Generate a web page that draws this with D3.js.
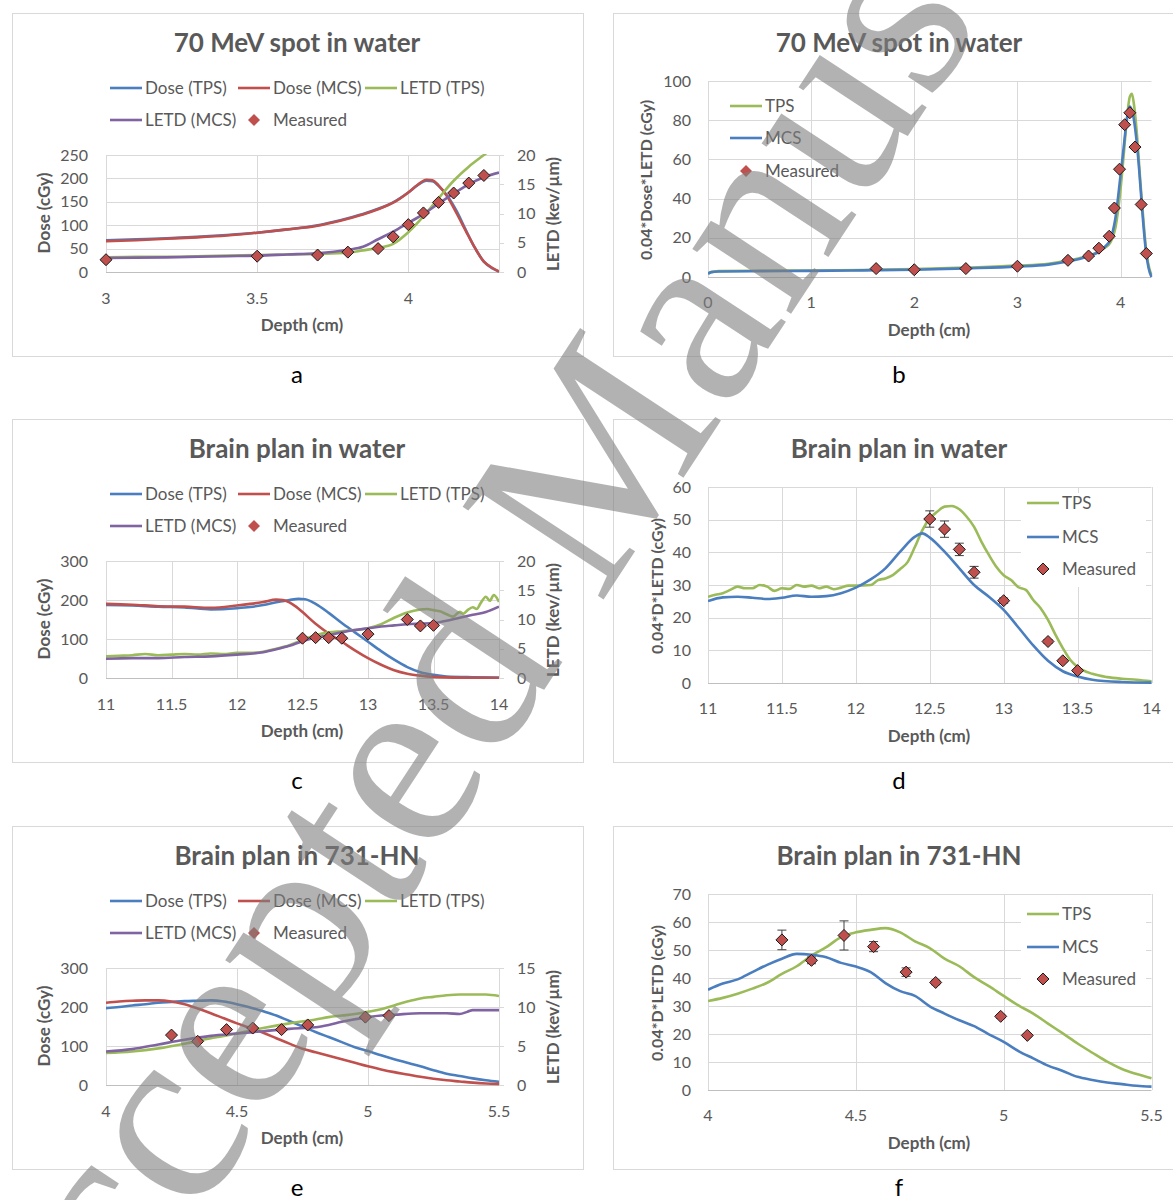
<!DOCTYPE html>
<html>
<head>
<meta charset="utf-8">
<script src="https://cdn.jsdelivr.net/npm/d3@7"></script>
<style>
  body { margin: 0; background: #fff; }
</style>
</head>
<body>
<script>
// ---- data ----
// panel a : 70 MeV spot in water (dose left axis, LETD right axis)
const aDoseTps = [[3,68],[3.1,70],[3.2,72],[3.3,75],[3.4,79],[3.5,84],[3.6,91],[3.7,100],[3.75,107],[3.8,115],[3.85,124],[3.9,135],[3.95,149],[4.0,170],[4.03,185],[4.06,195],[4.08,194],[4.1,184],[4.13,162],[4.16,130],[4.19,90],[4.22,52],[4.25,22],[4.28,7],[4.3,1]];
const aDoseMcs = [[3,66],[3.1,68],[3.2,71],[3.3,74],[3.4,78],[3.5,84],[3.6,91],[3.7,99],[3.75,106],[3.8,114],[3.85,123],[3.9,134],[3.95,148],[4.0,170],[4.03,186],[4.06,197],[4.08,196],[4.1,185],[4.13,160],[4.16,125],[4.19,88],[4.22,52],[4.25,22],[4.28,8],[4.3,1]];
const aLetTps = [[3,2.5],[3.1,2.6],[3.2,2.6],[3.3,2.7],[3.4,2.8],[3.5,2.9],[3.6,3.0],[3.7,3.1],[3.8,3.3],[3.85,3.7],[3.9,4.1],[3.95,4.8],[4.0,6.8],[4.05,9.5],[4.1,12.6],[4.15,15.6],[4.2,18.0],[4.25,20.0],[4.3,22.0]];
const aLetMcs = [[3,2.4],[3.2,2.5],[3.4,2.7],[3.5,2.8],[3.6,3.0],[3.7,3.2],[3.8,3.8],[3.85,4.3],[3.9,5.6],[3.95,6.9],[4.0,8.4],[4.05,9.9],[4.1,11.7],[4.15,13.4],[4.2,15.0],[4.25,16.2],[4.3,17.0]];
const aMeasX = [3, 3.5, 3.7, 3.8, 3.9, 3.95, 4.0, 4.05, 4.1, 4.15, 4.2, 4.25];
const aMeasY = [2.1, 2.7, 2.9, 3.4, 4.0, 6.0, 8.1, 10.1, 11.9, 13.5, 15.2, 16.5];

// panel b : 70 MeV spot, 0.04*Dose*LETD
const bTps = [[0,2],[0.1,3],[0.5,3.2],[1,3.3],[1.5,3.6],[2,4.0],[2.5,4.8],[3,5.8],[3.3,6.8],[3.5,8.5],[3.6,9.6],[3.7,11],[3.8,13.3],[3.85,15],[3.9,17.5],[3.95,25],[4.0,45],[4.03,62],[4.06,80],[4.09,92],[4.11,93.5],[4.13,88],[4.16,72],[4.19,50],[4.22,30],[4.25,13],[4.28,4],[4.3,1]];
const bMcs = [[0,1.5],[0.03,2.5],[0.1,2.8],[0.5,3.0],[1,3.1],[1.5,3.4],[2,3.7],[2.5,4.4],[3,5.3],[3.3,6.3],[3.5,8.0],[3.6,9.2],[3.7,10.8],[3.8,13.2],[3.85,15.5],[3.9,19],[3.95,30],[4.0,52],[4.03,66],[4.06,80],[4.09,87],[4.12,83],[4.15,72],[4.18,55],[4.21,34],[4.24,16],[4.27,5],[4.3,0]];
const bMeasX = [1.63, 2.0, 2.5, 3.0, 3.49, 3.69, 3.79, 3.89, 3.94, 3.99, 4.04, 4.09, 4.14, 4.2, 4.25];
const bMeasY = [4.3, 3.7, 4.3, 5.5, 8.5, 10.7, 14.7, 20.8, 35.2, 55, 77.7, 83.8, 66.3, 37, 12];

// panel c : brain plan in water
const cDoseTps = [[11,187],[11.2,186],[11.4,183],[11.6,181],[11.8,176],[12.0,179],[12.1,182],[12.2,187],[12.3,194],[12.4,200],[12.47,203],[12.52,202],[12.6,190],[12.7,167],[12.8,141],[12.9,117],[13.0,93],[13.1,69],[13.2,47],[13.3,28],[13.4,15],[13.5,8],[13.6,4],[13.8,2],[14,1]];
const cDoseMcs = [[11,190],[11.2,188],[11.4,184],[11.6,183],[11.8,180],[12.0,186],[12.1,190],[12.2,195],[12.3,201],[12.35,200],[12.4,194],[12.45,183],[12.5,169],[12.6,139],[12.7,114],[12.8,93],[12.9,71],[13.0,51],[13.1,34],[13.2,20],[13.3,11],[13.4,6],[13.5,3],[13.6,1.5],[13.8,0.5],[14,0]];
const cLetTps = [[11,3.7],[11.1,3.8],[11.2,3.9],[11.3,4.1],[11.4,3.9],[11.5,4.0],[11.6,4.1],[11.7,4.0],[11.8,4.2],[11.9,4.1],[12.0,4.3],[12.1,4.3],[12.2,4.5],[12.3,5.0],[12.4,5.6],[12.5,6.5],[12.6,7.3],[12.7,7.8],[12.8,8.0],[12.9,8.2],[13.0,8.5],[13.1,9.2],[13.2,10.3],[13.3,11.2],[13.4,11.7],[13.45,11.8],[13.5,11.6],[13.55,11.4],[13.6,10.9],[13.65,10.5],[13.7,11.3],[13.73,11.0],[13.76,11.6],[13.8,12.1],[13.83,11.8],[13.86,12.8],[13.9,13.9],[13.93,13.2],[13.96,14.2],[14,13.0]];
const cLetMcs = [[11,3.3],[11.2,3.4],[11.4,3.4],[11.6,3.6],[11.8,3.7],[12,4.0],[12.2,4.4],[12.3,4.9],[12.4,5.5],[12.5,6.3],[12.6,6.9],[12.7,7.3],[12.8,7.8],[12.9,8.2],[13.0,8.5],[13.1,8.8],[13.2,9.0],[13.3,9.2],[13.4,9.3],[13.5,9.4],[13.6,9.8],[13.7,10.3],[13.8,10.8],[13.9,11.3],[14,12.2]];
const cMeasX = [12.5, 12.6, 12.7, 12.8, 13.0, 13.3, 13.4, 13.5];
const cMeasY = [6.8, 6.9, 6.9, 6.8, 7.5, 10.0, 8.9, 9.0];

// panel d : brain plan in water, 0.04*D*LETD
const dTps = [[11,26.4],[11.05,27],[11.1,27.5],[11.15,28.5],[11.2,29.5],[11.25,29],[11.3,29],[11.35,30],[11.4,29.5],[11.45,28.2],[11.5,29],[11.55,28.8],[11.6,30],[11.65,29.5],[11.7,29.8],[11.75,29],[11.8,29.5],[11.85,28.7],[11.9,29.2],[11.95,29.8],[12.0,29.8],[12.1,30],[12.15,31.5],[12.2,32],[12.25,33],[12.3,34.9],[12.35,37],[12.4,41.7],[12.45,46.8],[12.5,50.4],[12.55,52.4],[12.6,54],[12.65,54.2],[12.7,53.2],[12.75,50.9],[12.8,47.8],[12.85,43.2],[12.9,39.2],[12.95,35.6],[13.0,33],[13.05,31.5],[13.1,29.3],[13.15,28.5],[13.2,25.4],[13.25,22.9],[13.3,19.3],[13.35,14.8],[13.4,10.7],[13.45,7.1],[13.5,4.9],[13.6,2.8],[13.7,1.8],[13.8,1.3],[13.9,1.0],[14,0.5]];
const dMcs = [[11,25.1],[11.1,26.2],[11.2,26.4],[11.3,26.1],[11.4,25.7],[11.5,26.1],[11.6,26.8],[11.7,26.4],[11.8,26.6],[11.9,27.5],[12.0,29.2],[12.1,31.7],[12.2,35.1],[12.3,40.2],[12.4,44.8],[12.45,45.8],[12.5,44.5],[12.6,40.2],[12.7,35.1],[12.8,30],[12.9,26.4],[13.0,22.4],[13.1,17],[13.2,11.5],[13.3,6.8],[13.4,3.6],[13.5,2.0],[13.6,1.0],[13.8,0.3],[14,0.1]];
const dMeasX = [12.5, 12.6, 12.7, 12.8, 13.0, 13.3, 13.4, 13.5];
const dMeasY = [50.2, 47.1, 40.9, 33.9, 25.2, 12.7, 6.8, 3.8];
const dMeasErr = [2.5, 2.5, 1.9, 1.8, 0.8, 0.6, 0.4, 0.3];

// panel e : brain plan in 731-HN
const eDoseTps = [[4.0,197],[4.05,200],[4.1,204],[4.15,207],[4.2,211],[4.25,213],[4.3,215],[4.35,216],[4.4,217],[4.45,214],[4.5,207],[4.55,199],[4.6,189],[4.65,178],[4.7,164],[4.75,150],[4.8,136],[4.85,123],[4.9,110],[4.95,97],[5.0,87],[5.05,76],[5.1,66],[5.15,57],[5.2,48],[5.25,38],[5.3,29],[5.35,23],[5.4,17],[5.45,12],[5.5,8]];
const eDoseMcs = [[4.0,211],[4.05,214],[4.1,216],[4.15,217],[4.2,217],[4.25,214],[4.3,207],[4.35,196],[4.4,184],[4.45,171],[4.5,158],[4.55,146],[4.6,134],[4.65,120],[4.7,106],[4.75,93],[4.8,84],[4.85,75],[4.9,66],[4.95,57],[5.0,48],[5.05,40],[5.1,33],[5.15,27],[5.2,21],[5.25,16],[5.3,12],[5.35,9],[5.4,6],[5.45,4],[5.5,3]];
const eLetTps = [[4.0,4.1],[4.1,4.3],[4.2,4.7],[4.3,5.3],[4.4,6.0],[4.5,6.6],[4.6,7.3],[4.7,7.9],[4.8,8.4],[4.85,8.7],[4.9,8.9],[4.95,9.1],[5.0,9.4],[5.05,9.7],[5.1,10.2],[5.15,10.7],[5.2,11.1],[5.25,11.3],[5.3,11.5],[5.35,11.6],[5.45,11.6],[5.5,11.4]];
const eLetMcs = [[4.0,4.3],[4.1,4.6],[4.2,5.2],[4.3,5.8],[4.4,6.3],[4.5,6.6],[4.6,6.9],[4.7,7.2],[4.8,7.4],[4.85,7.7],[4.9,8.1],[5.0,8.7],[5.05,8.9],[5.1,9.0],[5.2,9.2],[5.3,9.2],[5.35,9.1],[5.38,9.4],[5.4,9.6],[5.5,9.6]];
const eMeasX = [4.25, 4.35, 4.46, 4.56, 4.67, 4.77, 4.99, 5.08];
const eMeasY = [6.4, 5.6, 7.1, 7.3, 7.1, 7.7, 8.7, 8.9];

// panel f : brain plan in 731-HN, 0.04*D*LETD
const fTps = [[4.0,31.8],[4.05,32.9],[4.1,34.4],[4.15,36.2],[4.2,38.3],[4.25,41.5],[4.3,44.2],[4.35,48],[4.4,51],[4.45,54.6],[4.5,56.3],[4.55,57.2],[4.6,57.8],[4.65,56.3],[4.7,53.1],[4.75,50.7],[4.8,46.9],[4.85,44.2],[4.9,40.3],[4.95,37.1],[5.0,33.6],[5.05,30.2],[5.1,27.3],[5.15,23.7],[5.2,20.2],[5.25,16.6],[5.3,13.3],[5.35,10.1],[5.4,7.5],[5.45,5.7],[5.5,4.2]];
const fMcs = [[4.0,35.8],[4.05,38],[4.1,39.5],[4.15,42.1],[4.2,44.7],[4.25,46.9],[4.3,48.6],[4.35,48.3],[4.4,47.4],[4.45,45.4],[4.5,44.1],[4.55,42.1],[4.6,38.2],[4.65,35.3],[4.7,33.6],[4.75,29.9],[4.8,27.3],[4.85,24.9],[4.9,22.8],[4.95,19.9],[5.0,17.2],[5.05,13.9],[5.1,11.3],[5.15,8.7],[5.2,6.8],[5.25,4.7],[5.3,3.6],[5.35,2.7],[5.4,2.1],[5.45,1.5],[5.5,1.2]];
const fMeasX = [4.25, 4.35, 4.46, 4.56, 4.67, 4.77, 4.99, 5.08];
const fMeasY = [53.6, 46.3, 55.2, 51.2, 42.1, 38.4, 26.3, 19.5];
const fMeasErr = [3.5, 1.2, 5.2, 1.8, 1.5, 0.8, 0.7, 0.5];

// ---- style ----
const FONT = "Lato, 'Open Sans', sans-serif";
const TXT = "#595959", GRID = "#d9d9d9", AXIS = "#bfbfbf";
const BLUE = "#4a7ebf", RED = "#c0504d", GREEN = "#9bbb59", PURPLE = "#8064a2";
const LW = 2.6;

const svg = d3.select("body").append("svg")
  .attr("width", 1173).attr("height", 1200)
  .style("font-family", FONT);

const zip = (xs, ys) => xs.map((v, i) => [v, ys[i]]);
const diamondPath = s => `M0,${-s}L${s},0L0,${s}L${-s},0Z`;
let clipId = 0;

function label(g, x, y, txt, size, opts = {}) {
  return g.append("text")
    .attr("x", x).attr("y", y).attr("dy", "0.35em")
    .attr("text-anchor", opts.anchor || "middle")
    .attr("font-size", size)
    .attr("font-weight", opts.bold ? 700 : 400)
    .attr("fill", opts.color || TXT)
    .attr("transform", opts.rot ? `rotate(-90,${x},${y})` : null)
    .text(txt);
}

function drawLine(g, data, x, y, color) {
  g.append("path")
    .datum(data)
    .attr("fill", "none")
    .attr("stroke", color)
    .attr("stroke-width", LW)
    .attr("stroke-linejoin", "round")
    .attr("d", d3.line().x(d => x(d[0])).y(d => y(d[1])).curve(d3.curveMonotoneX));
}

function drawMeasured(g, pts, x, y, err) {
  if (err) {
    const eb = g.append("g").attr("stroke", "#404040").attr("stroke-width", 1);
    pts.forEach((p, i) => {
      const e = err[i];
      eb.append("line").attr("x1", x(p[0])).attr("x2", x(p[0])).attr("y1", y(p[1] - e)).attr("y2", y(p[1] + e));
      [p[1] - e, p[1] + e].forEach(v => eb.append("line")
        .attr("x1", x(p[0]) - 4.5).attr("x2", x(p[0]) + 4.5).attr("y1", y(v)).attr("y2", y(v)));
    });
  }
  g.selectAll("path.meas")
    .data(pts)
    .join("path")
    .attr("class", "meas")
    .attr("d", diamondPath(6))
    .attr("transform", d => `translate(${x(d[0])},${y(d[1])})`)
    .attr("fill", RED)
    .attr("stroke", "#1a1a1a")
    .attr("stroke-width", 1);
}

function legendItem(g, x, y, txt, color, isMarker, outlined) {
  if (isMarker) {
    g.append("path").attr("d", diamondPath(6))
      .attr("transform", `translate(${x + 16},${y})`)
      .attr("fill", RED)
      .attr("stroke", outlined ? "#1a1a1a" : "none");
  } else {
    g.append("line").attr("x1", x).attr("x2", x + 32).attr("y1", y).attr("y2", y)
      .attr("stroke", color).attr("stroke-width", LW);
  }
  label(g, x + 35, y, txt, 17, { anchor: "start" });
}

function gridAndAxes(g, x, y, xTicks, yTicks, L, R, T, B, tickY) {
  // horizontal grid
  g.append("g").selectAll("line")
    .data(yTicks.filter(v => v !== 0))
    .join("line")
    .attr("x1", L).attr("x2", R)
    .attr("y1", d => Math.round(y(d)) + 0.5).attr("y2", d => Math.round(y(d)) + 0.5)
    .attr("stroke", GRID);
  // vertical grid
  g.append("g").selectAll("line")
    .data(xTicks)
    .join("line")
    .attr("x1", d => Math.round(x(d)) + 0.5).attr("x2", d => Math.round(x(d)) + 0.5)
    .attr("y1", T).attr("y2", B)
    .attr("stroke", GRID);
  // x axis line
  g.append("line").attr("x1", L).attr("x2", R)
    .attr("y1", Math.round(B) + 0.5).attr("y2", Math.round(B) + 0.5)
    .attr("stroke", AXIS);
  // tick labels
  g.append("g").selectAll("text")
    .data(xTicks)
    .join("text")
    .attr("x", d => x(d)).attr("y", tickY).attr("dy", "0.35em")
    .attr("text-anchor", "middle").attr("font-size", 16).attr("fill", TXT)
    .text(d => d);
}

// left column: Dose + LETD on two axes
function dualPanel(p) {
  const oy = p.oy;
  const g = svg.append("g");
  g.append("rect").attr("x", 12.5).attr("y", 13.5 + oy).attr("width", 571).attr("height", 343)
    .attr("fill", "#fff").attr("stroke", GRID);
  label(g, 297, 43 + oy, p.title, 26, { bold: true });

  const L = 106, R = 499, T = 155 + oy, B = 272 + oy;
  const x = d3.scaleLinear().domain(p.xDom).range([L, R]);
  const y = d3.scaleLinear().domain([0, p.yTicks[p.yTicks.length - 1]]).range([B, T]);
  const y2 = d3.scaleLinear().domain([0, p.y2Ticks[p.y2Ticks.length - 1]]).range([B, T]);

  gridAndAxes(g, x, y, p.xTicks, p.yTicks, L, R, T, B, 298 + oy);

  // secondary axis line with outside ticks
  g.append("line").attr("x1", R + 0.5).attr("x2", R + 0.5).attr("y1", T).attr("y2", B).attr("stroke", GRID);
  g.append("g").selectAll("line")
    .data(p.y2Ticks).join("line")
    .attr("x1", R).attr("x2", R + 5)
    .attr("y1", d => Math.round(y2(d)) + 0.5).attr("y2", d => Math.round(y2(d)) + 0.5)
    .attr("stroke", GRID);

  g.append("g").selectAll("text").data(p.yTicks).join("text")
    .attr("x", 88).attr("y", d => y(d)).attr("dy", "0.35em")
    .attr("text-anchor", "end").attr("font-size", 16).attr("fill", TXT).text(d => d);
  g.append("g").selectAll("text").data(p.y2Ticks).join("text")
    .attr("x", 517).attr("y", d => y2(d)).attr("dy", "0.35em")
    .attr("text-anchor", "start").attr("font-size", 16).attr("fill", TXT).text(d => d);

  label(g, 44, 213 + oy, "Dose (cGy)", 17, { bold: true, rot: true });
  label(g, 553, 214 + oy, "LETD (kev/\u00b5m)", 17, { bold: true, rot: true });
  label(g, 302, 325 + oy, "Depth (cm)", 17, { bold: true });

  // series, clipped to the plot
  const id = "clip" + (clipId++);
  g.append("clipPath").attr("id", id).append("rect")
    .attr("x", L).attr("y", T - 1).attr("width", R - L).attr("height", B - T + 2);
  const pg = g.append("g").attr("clip-path", `url(#${id})`);
  drawLine(pg, p.doseTps, x, y, BLUE);
  drawLine(pg, p.doseMcs, x, y, RED);
  drawLine(pg, p.letTps, x, y2, GREEN);
  drawLine(pg, p.letMcs, x, y2, PURPLE);
  drawMeasured(g, p.meas, x, y2);

  // legend
  const lg = g.append("g");
  legendItem(lg, 110, 88 + oy, "Dose (TPS)", BLUE);
  legendItem(lg, 238, 88 + oy, "Dose (MCS)", RED);
  legendItem(lg, 365, 88 + oy, "LETD (TPS)", GREEN);
  legendItem(lg, 110, 120 + oy, "LETD (MCS)", PURPLE);
  legendItem(lg, 238, 120 + oy, "Measured", RED, true, false);

  label(g, 297, 375 + oy, p.letter, 24, { color: "#000" });
}

// right column: 0.04*Dose*LETD
function productPanel(p) {
  const oy = p.oy;
  const g = svg.append("g");
  g.append("rect").attr("x", 613.5).attr("y", 13.5 + oy).attr("width", 575).attr("height", 343)
    .attr("fill", "#fff").attr("stroke", GRID);
  label(g, 899, 43 + oy, p.title, 26, { bold: true });

  const L = 708, R = 1151.5, T = 81 + oy, B = 277 + oy;
  const x = d3.scaleLinear().domain(p.xDom).range([L, R]);
  const y = d3.scaleLinear().domain([0, p.yTicks[p.yTicks.length - 1]]).range([B, T]);

  gridAndAxes(g, x, y, p.xTicks, p.yTicks, L, R, T, B, 302 + oy);
  g.append("g").selectAll("text").data(p.yTicks).join("text")
    .attr("x", 691).attr("y", d => y(d)).attr("dy", "0.35em")
    .attr("text-anchor", "end").attr("font-size", 16).attr("fill", TXT).text(d => d);

  label(g, p.yTitleX, 180 + oy, p.yTitle, 16, { bold: true, rot: true });
  label(g, 929, 330 + oy, "Depth (cm)", 17, { bold: true });

  // legend box (white, hides the grid behind it)
  if (p.legendBox) {
    g.append("rect").attr("x", p.legendBox[0]).attr("y", p.legendBox[1] + oy)
      .attr("width", p.legendBox[2]).attr("height", p.legendBox[3]).attr("fill", "#fff");
  }

  const id = "clip" + (clipId++);
  g.append("clipPath").attr("id", id).append("rect")
    .attr("x", L).attr("y", T - 1).attr("width", R - L + 1).attr("height", B - T + 2);
  const pg = g.append("g").attr("clip-path", `url(#${id})`);
  drawLine(pg, p.tps, x, y, GREEN);
  drawLine(pg, p.mcs, x, y, BLUE);
  drawMeasured(g, p.meas, x, y, p.err);

  const lg = g.append("g");
  legendItem(lg, p.legX, p.legY[0] + oy, "TPS", GREEN);
  legendItem(lg, p.legX, p.legY[1] + oy, "MCS", BLUE);
  legendItem(lg, p.legX, p.legY[2] + oy, "Measured", RED, true, p.legOutline);

  label(g, 899, 375 + oy, p.letter, 24, { color: "#000" });
}

dualPanel({
  oy: 0, title: "70 MeV spot in water", letter: "a",
  xDom: [3, 4.3], xTicks: [3, 3.5, 4],
  yTicks: [0, 50, 100, 150, 200, 250], y2Ticks: [0, 5, 10, 15, 20],
  doseTps: aDoseTps, doseMcs: aDoseMcs, letTps: aLetTps, letMcs: aLetMcs,
  meas: zip(aMeasX, aMeasY)
});
productPanel({
  oy: 0, title: "70 MeV spot in water", letter: "b",
  xDom: [0, 4.3], xTicks: [0, 1, 2, 3, 4],
  yTicks: [0, 20, 40, 60, 80, 100],
  yTitle: "0.04*Dose*LETD (cGy)", yTitleX: 646,
  tps: bTps, mcs: bMcs, meas: zip(bMeasX, bMeasY),
  legX: 730, legY: [106, 138, 171], legOutline: false
});
dualPanel({
  oy: 406, title: "Brain plan in water", letter: "c",
  xDom: [11, 14], xTicks: [11, 11.5, 12, 12.5, 13, 13.5, 14],
  yTicks: [0, 100, 200, 300], y2Ticks: [0, 5, 10, 15, 20],
  doseTps: cDoseTps, doseMcs: cDoseMcs, letTps: cLetTps, letMcs: cLetMcs,
  meas: zip(cMeasX, cMeasY)
});
productPanel({
  oy: 406, title: "Brain plan in water", letter: "d",
  xDom: [11, 14], xTicks: [11, 11.5, 12, 12.5, 13, 13.5, 14],
  yTicks: [0, 10, 20, 30, 40, 50, 60],
  yTitle: "0.04*D*LETD (cGy)", yTitleX: 657,
  tps: dTps, mcs: dMcs, meas: zip(dMeasX, dMeasY), err: dMeasErr,
  legX: 1027, legY: [97, 131, 163], legOutline: true, legendBox: [1021, 87, 125, 94]
});
dualPanel({
  oy: 813, title: "Brain plan in 731-HN", letter: "e",
  xDom: [4, 5.5], xTicks: [4, 4.5, 5, 5.5],
  yTicks: [0, 100, 200, 300], y2Ticks: [0, 5, 10, 15],
  doseTps: eDoseTps, doseMcs: eDoseMcs, letTps: eLetTps, letMcs: eLetMcs,
  meas: zip(eMeasX, eMeasY)
});
productPanel({
  oy: 813, title: "Brain plan in 731-HN", letter: "f",
  xDom: [4, 5.5], xTicks: [4, 4.5, 5, 5.5],
  yTicks: [0, 10, 20, 30, 40, 50, 60, 70],
  yTitle: "0.04*D*LETD (cGy)", yTitleX: 657,
  tps: fTps, mcs: fMcs, meas: zip(fMeasX, fMeasY), err: fMeasErr,
  legX: 1027, legY: [101, 134, 166], legOutline: true, legendBox: [1021, 85, 125, 100]
});

// "Accepted Manuscript" watermark over the whole figure.
// Placed so that the first "e" and the "a" of Manuscript sit where they are in the scan.
const wm = svg.append("text")
  .attr("font-family", "'Liberation Serif', 'DejaVu Serif', serif")
  .attr("font-size", 100)
  .attr("fill", "#7f7f7f")
  .attr("fill-opacity", 0.6)
  .text("Accepted Manuscript");
const wmNode = wm.node();
const inkMid = i => {
  const p = wmNode.getStartPositionOfChar(i), e = wmNode.getExtentOfChar(i);
  return [p.x + e.width / 2, p.y - 23];            // x-height centre at 100px
};
const e3 = inkMid(3), a10 = inkMid(10);
const anchorE = [240, 1045], anchorA = [707, 334];
const tx = anchorA[0] - anchorE[0], ty = anchorA[1] - anchorE[1];
const wmAngle = Math.atan2(ty, tx) * 180 / Math.PI - Math.atan2(a10[1] - e3[1], a10[0] - e3[0]) * 180 / Math.PI;
const wmScale = Math.hypot(tx, ty) / Math.hypot(a10[0] - e3[0], a10[1] - e3[1]);
wm.attr("transform",
  `translate(${anchorE[0]},${anchorE[1]}) rotate(${wmAngle}) scale(${wmScale}) translate(${-e3[0]},${-e3[1]})`);
</script>
</body>
</html>
